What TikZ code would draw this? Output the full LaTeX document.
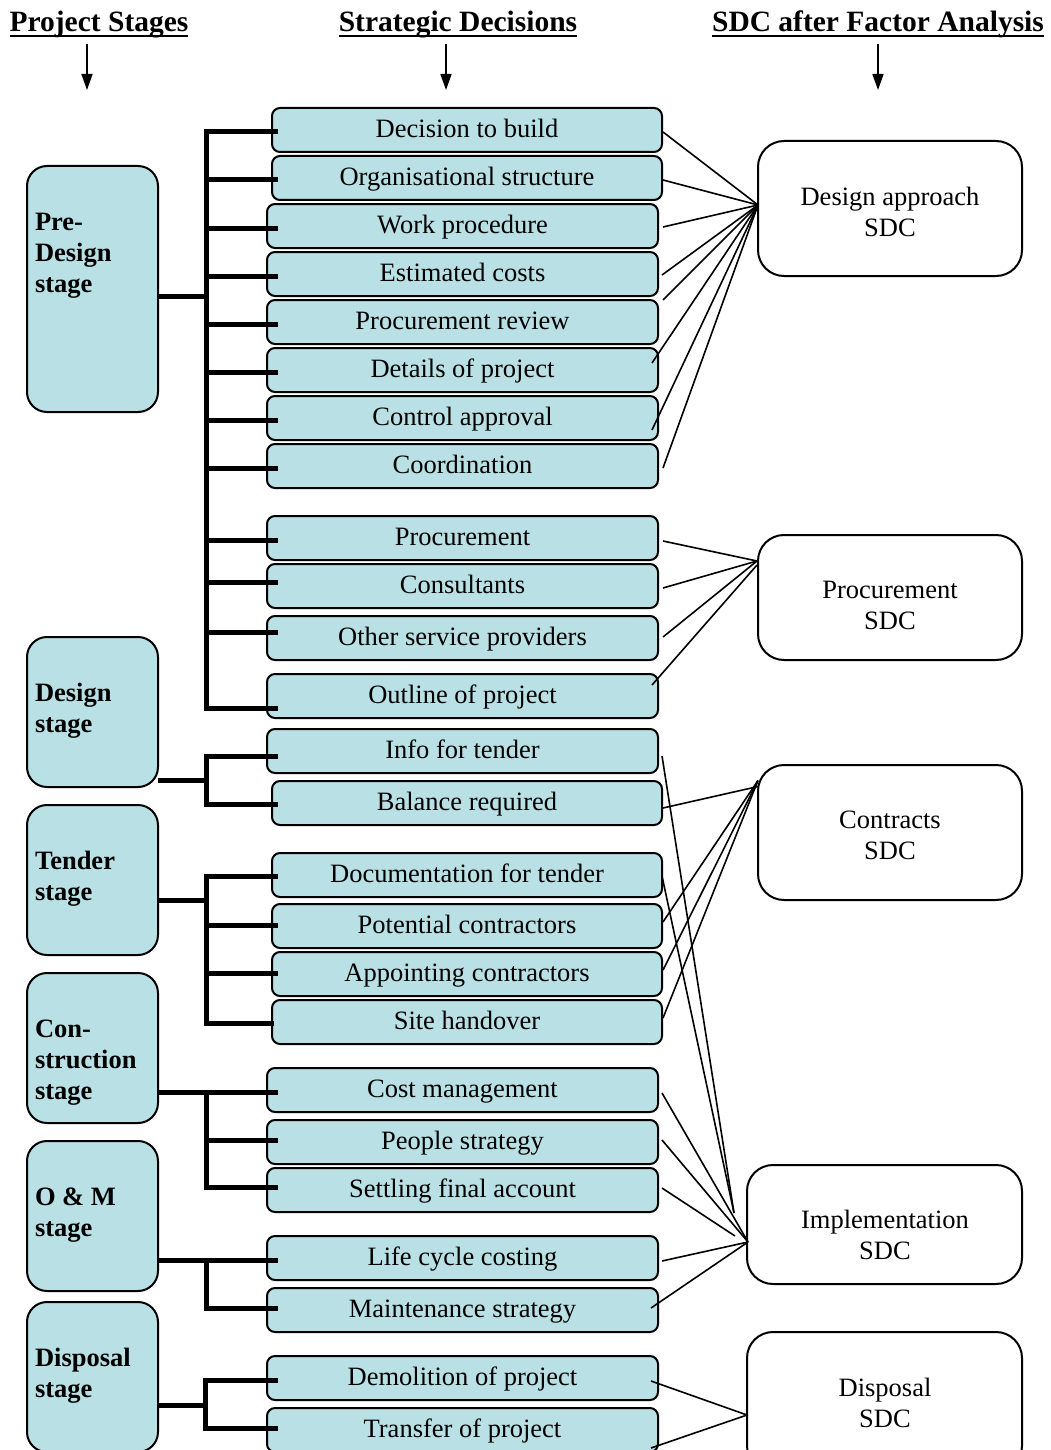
\documentclass[tikz,border=0pt]{standalone}
\usepackage{fontspec}
\setmainfont{Liberation Serif}
\usetikzlibrary{calc,arrows.meta}
\definecolor{boxblue}{RGB}{185,224,228}
\begin{document}
\begin{tikzpicture}[x=1pt,y=-1pt,
  every node/.style={inner sep=0pt,outer sep=0pt},
  stagebox/.style={draw,line width=2,fill=boxblue,rounded corners=20,minimum width=131},
  stagelbl/.style={anchor=base west,font=\fontsize{26.5}{31}\selectfont\bfseries},
  decbox/.style={draw,line width=2,fill=boxblue,rounded corners=8,minimum height=44,
    text height=19.5,text depth=4.5,font=\fontsize{26.5}{31}\selectfont},
  deca/.style={decbox,minimum width=390},
  decb/.style={decbox,minimum width=391},
  sdcbox/.style={draw,line width=2,fill=white,rounded corners=26},
  sdctext/.style={align=center,font=\fontsize{26.5}{31}\selectfont},
  bracket/.style={line width=5,line join=miter},
  link/.style={line width=1.6},
  head/.style={anchor=base,font=\fontsize{29.5}{34}\selectfont\bfseries},
  hdarrow/.style={line width=1.6,-{Triangle[length=16,width=11]}}]

\useasboundingbox (0,0) rectangle (1050,1450);

% column headings
\node[head] (h1) at (99,31.5) {Project Stages};
\node[head] (h2) at (458,31.5) {Strategic Decisions};
\node[head] (h3) at (878,31.5) {SDC after Factor Analysis};
\foreach \h in {h1,h2,h3}
  \draw[line width=2] ($(\h.base west)+(0,4.5)$) -- ($(\h.base east)+(0,4.5)$);
\coordinate (a1s) at (87,44);  \coordinate (a1e) at (87,90);
\coordinate (a2s) at (446,44); \coordinate (a2e) at (446,90);
\coordinate (a3s) at (878,44); \coordinate (a3e) at (878,90);
\draw[hdarrow] (a1s) -- (a1e);
\draw[hdarrow] (a2s) -- (a2e);
\draw[hdarrow] (a3s) -- (a3e);

% project stages
\node[stagebox,minimum height=246] (s1) at (92.5,289) {};
\node[stagelbl] (t1) at (35,230)
  {\begin{tabular}[t]{@{}l@{}}Pre-\\Design\\stage\end{tabular}};
\node[stagebox,minimum height=150] (s2) at (92.5,712) {};
\node[stagelbl] (t2) at (35,701) {\begin{tabular}[t]{@{}l@{}}Design\\stage\end{tabular}};
\node[stagebox,minimum height=150] (s3) at (92.5,880) {};
\node[stagelbl] (t3) at (35,869) {\begin{tabular}[t]{@{}l@{}}Tender\\stage\end{tabular}};
\node[stagebox,minimum height=150] (s4) at (92.5,1048) {};
\node[stagelbl] (t4) at (35,1037) {\begin{tabular}[t]{@{}l@{}}Con-\\struction\\stage\end{tabular}};
\node[stagebox,minimum height=150] (s5) at (92.5,1216) {};
\node[stagelbl] (t5) at (35,1205) {\begin{tabular}[t]{@{}l@{}}O \& M\\stage\end{tabular}};
\node[stagebox,minimum height=150] (s6) at (92.5,1377) {};
\node[stagelbl] (t6) at (35,1366) {\begin{tabular}[t]{@{}l@{}}Disposal\\stage\end{tabular}};

% strategic decisions
\node[deca] (d1)  at (467,130)   {Decision to build};
\node[deca] (d2)  at (467,178)   {Organisational structure};
\node[decb] (d3)  at (462.5,226) {Work procedure};
\node[decb] (d4)  at (462.5,274) {Estimated costs};
\node[decb] (d5)  at (462.5,322) {Procurement review};
\node[decb] (d6)  at (462.5,370) {Details of project};
\node[decb] (d7)  at (462.5,418) {Control approval};
\node[decb] (d8)  at (462.5,466) {Coordination};
\node[decb] (d9)  at (462.5,538) {Procurement};
\node[decb] (d10) at (462.5,586) {Consultants};
\node[decb] (d11) at (462.5,638) {Other service providers};
\node[decb] (d12) at (462.5,696) {Outline of project};
\node[decb] (d13) at (462.5,751) {Info for tender};
\node[deca] (d14) at (467,803)   {Balance required};
\node[deca] (d15) at (467,875)   {Documentation for tender};
\node[deca] (d16) at (467,926)   {Potential contractors};
\node[deca] (d17) at (467,974)   {Appointing contractors};
\node[deca] (d18) at (467,1022)  {Site handover};
\node[decb] (d19) at (462.5,1090) {Cost management};
\node[decb] (d20) at (462.5,1142) {People strategy};
\node[decb] (d21) at (462.5,1190) {Settling final account};
\node[decb] (d22) at (462.5,1258) {Life cycle costing};
\node[decb] (d23) at (462.5,1310) {Maintenance strategy};
\node[decb] (d24) at (462.5,1378) {Demolition of project};
\node[decb] (d25) at (462.5,1430) {Transfer of project};

% SDC groups
\node[sdcbox,minimum width=264,minimum height=135] (p1) at (890,208.5) {};
\node[sdctext] (q1) at (890,211.5) {Design approach\\SDC};
\node[sdcbox,minimum width=264,minimum height=125] (p2) at (890,597.5) {};
\node[sdctext] (q2) at (890,605.5) {Procurement\\SDC};
\node[sdcbox,minimum width=264,minimum height=135] (p3) at (890,832.5) {};
\node[sdctext] (q3) at (890,835.5) {Contracts\\SDC};
\node[sdcbox,minimum width=275,minimum height=119] (p4) at (884.5,1224.5) {};
\node[sdctext] (q4) at (885,1234.5) {Implementation\\SDC};
\node[sdcbox,minimum width=275,minimum height=140] (p5) at (884.5,1402) {};
\node[sdctext] (q5) at (885,1402.5) {Disposal\\SDC};

% stage brackets
\draw[bracket] ($(s1.east)+(0,7)$) -- (206,296);
\draw[bracket] ($(d1.west)+(6,2)$) -- (206,132) -- (206,708) -- ($(d12.west)+(11,12)$);
\foreach \n/\dx/\dy/\y in {2/6/2/180,3/11/2/228,4/11/2/276,5/11/2/324,6/11/2/372,
    7/11/2/420,8/11/2/468,9/11/2/540,10/11/-4/582,11/11/-6/632}
  \draw[bracket] (206,\y) -- ($(d\n.west)+(\dx,\dy)$);

\draw[bracket] ($(s2.east)+(0,68)$) -- (206,780);
\draw[bracket] ($(d13.west)+(11,5)$) -- (206,756) -- (206,804) -- ($(d14.west)+(6,1)$);

\draw[bracket] ($(s3.east)+(0,20)$) -- (206,900);
\draw[bracket] ($(d15.west)+(6,1)$) -- (206,876) -- (206,1023) -- ($(d18.west)+(2,1)$);
\draw[bracket] (206,925) -- ($(d16.west)+(6,-1)$);
\draw[bracket] (206,973) -- ($(d17.west)+(6,-1)$);

\draw[bracket] ($(s4.east)+(0,44)$) -- ($(d19.west)+(11,2)$);
\draw[bracket] (206,1089.5) -- (206,1187) -- ($(d21.west)+(11,-3)$);
\draw[bracket] (206,1140) -- ($(d20.west)+(11,-2)$);

\draw[bracket] ($(s5.east)+(0,44)$) -- ($(d22.west)+(11,2)$);
\draw[bracket] (206,1257.5) -- (206,1308) -- ($(d23.west)+(11,-2)$);

\draw[bracket] ($(s6.east)+(0,28)$) -- (205,1405);
\draw[bracket] ($(d24.west)+(11,2)$) -- (205,1380) -- (205,1428) -- ($(d25.west)+(11,-2)$);

% links to the SDC groups
\coordinate (c1) at ($(p1.west)+(0,-3.5)$);
\foreach \n/\dx/\dy in {1/1/2,2/1/2,3/5/1,4/4/1,5/5/-22,6/-6/-7,7/-6/12,8/5/2}
  \draw[link] ($(d\n.east)+(\dx,\dy)$) -- (c1);

\coordinate (c2) at ($(p2.west)+(-1,-36.5)$);
\coordinate (c2b) at ($(p2.west)+(-1,-32.5)$);
\foreach \n/\dx/\dy in {9/5/3,10/5/2,11/5/-1}
  \draw[link] ($(d\n.east)+(\dx,\dy)$) -- (c2);
\draw[link] ($(d12.east)+(-6,-11)$) -- (c2b);

\coordinate (c3) at ($(p3.west)+(0,-52)$);
\coordinate (c3b) at ($(p3.west)+(0,-46)$);
\draw[link] ($(d14.east)+(1,5)$) -- (c3b);
\foreach \n in {16,17,18}
  \draw[link] ($(d\n.east)+(1,-4)$) -- (c3);

\coordinate (c4) at ($(p4.west)+(1,17.5)$);
\coordinate (c4b) at ($(p4.west)+(-13,-11.5)$);
\coordinate (c4c) at ($(p4.west)+(-12,11.5)$);
\draw[link] ($(d13.east)+(4,5)$) -- (c4b);
\draw[link] ($(d15.east)+(0,1)$) -- (c4b);
\draw[link] ($(d19.east)+(4,3)$) -- (c4);
\draw[link] ($(d20.east)+(4,-2)$) -- (c4);
\draw[link] ($(d21.east)+(4,-2)$) -- (c4c);
\draw[link] ($(d22.east)+(4,3)$) -- (c4);
\draw[link] ($(d23.east)+(-7,-2)$) -- (c4);

\coordinate (c5) at ($(p5.west)+(0,13)$);
\draw[link] ($(d24.east)+(-7,3)$) -- (c5);
\draw[link] ($(d25.east)+(-7,18)$) -- (c5);
\end{tikzpicture}
\end{document}
